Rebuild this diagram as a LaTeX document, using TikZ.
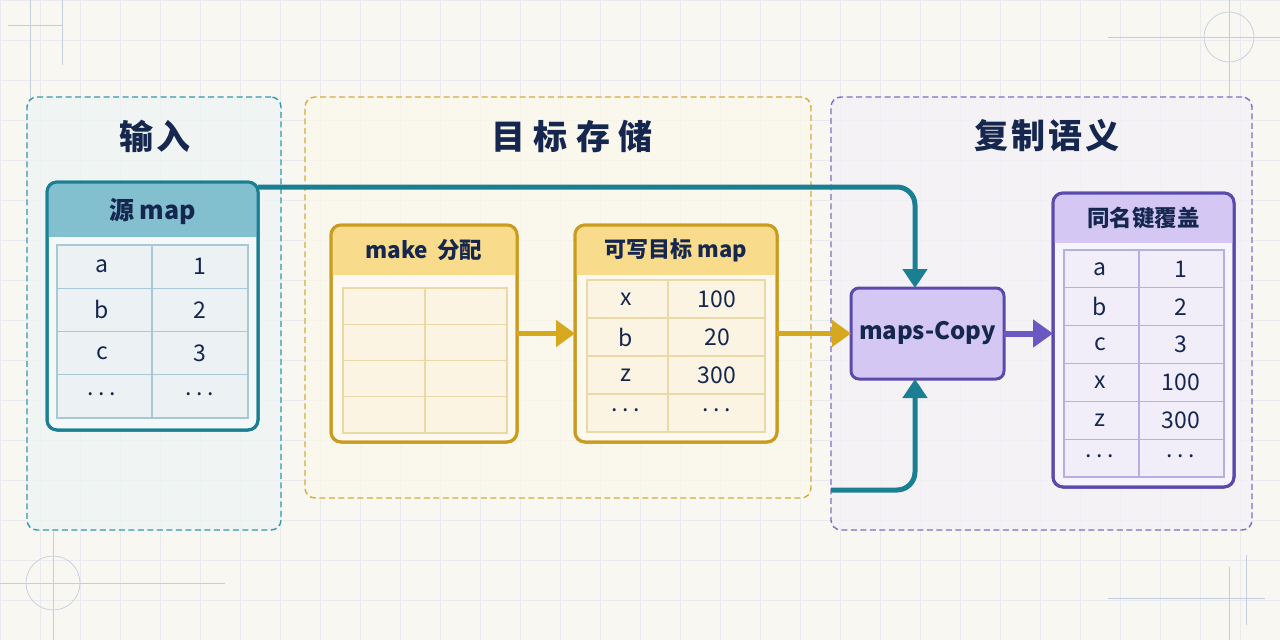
\documentclass[tikz,border=0pt]{standalone}
\usepackage{fontspec}
\setmainfont{Noto Sans CJK SC}
\usetikzlibrary{arrows.meta,calc}
\definecolor{bg}{HTML}{F8F7F2}
\definecolor{gridc}{HTML}{E8EAEE}
\definecolor{deco}{HTML}{C3CEDF}
\definecolor{navy}{HTML}{15264F}
\definecolor{tealc}{HTML}{1B7F93}
\definecolor{tealhead}{HTML}{82C0D0}
\definecolor{tealdash}{HTML}{2F9AAC}
\definecolor{tealpanel}{HTML}{EEF5F4}
\definecolor{tealbody}{HTML}{F4F8F9}
\definecolor{tealcell}{HTML}{ECF1F3}
\definecolor{tealline}{HTML}{A7C8D4}
\definecolor{goldc}{HTML}{C99B1E}
\definecolor{goldarrow}{HTML}{D6A81E}
\definecolor{goldhead}{HTML}{F8DC8C}
\definecolor{golddash}{HTML}{D8AA3C}
\definecolor{goldpanel}{HTML}{FBF7EB}
\definecolor{goldbody}{HTML}{FDF9EF}
\definecolor{goldcell}{HTML}{FBF4E3}
\definecolor{goldline}{HTML}{EAD8A6}
\definecolor{purc}{HTML}{5B4AAB}
\definecolor{purarrow}{HTML}{6B58C2}
\definecolor{purhead}{HTML}{D4C7F4}
\definecolor{purdash}{HTML}{7F6DCB}
\definecolor{purpanel}{HTML}{F4F1F8}
\definecolor{purbody}{HTML}{F6F4FC}
\definecolor{purcell}{HTML}{F1EEFA}
\definecolor{purline}{HTML}{B9AEE4}
\tikzset{
  panel/.style={rectangle, draw, dash pattern=on 6pt off 3.5pt, line width=1.4pt, rounded corners=10pt, fill opacity=0.75, inner sep=0pt, outer sep=0pt},
  mapbox/.style={rectangle, rounded corners=10pt, line width=3pt, inner sep=0pt, outer sep=0pt},
  title/.style={font=\fontsize{34}{40}\selectfont\bfseries, text=navy},
  head/.style={font=\fontsize{22.5}{26}\selectfont\bfseries, text=navy},
  cell/.style={font=\fontsize{23}{26}\selectfont, text=navy, inner sep=0pt},
  decoline/.style={draw=deco, line width=0.7pt},
}
\newcommand{\mydots}{\raisebox{0.22em}{.\hspace{4.5pt}.\hspace{4.5pt}.}}
\newcommand{\gridtable}[7]{%
  \filldraw[fill=#7cell, draw=#7line, line width=1.2pt] (#1,#2) rectangle (#3,#4);
  \draw[#7line, line width=1.2pt] (#5,#2) -- (#5,#4);
  \pgfmathtruncatemacro{\nm}{#6-1}
  \foreach \i in {1,...,\nm}{\draw[#7line, line width=1.2pt] (#1,{#2+(#4-#2)*\i/#6}) -- (#3,{#2+(#4-#2)*\i/#6});}
}
\newcommand{\headfill}[3]{%
  \begin{scope}
    \clip[rounded corners=10pt] (#1.north west) rectangle (#1.south east);
    \fill[#2] (#1.north west) rectangle ($(#1.north east)+(0,#3)$);
  \end{scope}
}
\begin{document}
\begin{tikzpicture}[x=1pt,y=-1pt]
\useasboundingbox (0,0) rectangle (1280,640);
\fill[bg] (0,0) rectangle (1280,640);
% grid
\foreach \x in {0,40,...,1280} \draw[gridc, line width=0.6pt] (\x,0) -- (\x,640);
\foreach \y in {0,40,...,640} \draw[gridc, line width=0.6pt] (0,\y) -- (1280,\y);
% decorations
\draw[decoline] (30,0) -- (30,100);
\draw[decoline] (62,0) -- (62,65);
\draw[decoline] (8,25) -- (62,25);
\draw[decoline] (1229,37) circle (25);
\draw[decoline] (1108,37) -- (1280,37);
\draw[decoline] (1229,0) -- (1229,100);
\draw[decoline] (53,583) circle (27);
\draw[decoline] (0,583) -- (225,583);
\draw[decoline] (53,530) -- (53,640);
\draw[decoline] (1229,567) -- (1229,640);
\draw[decoline] (1246,555) -- (1246,625);
\draw[decoline] (1108,598) -- (1265,598);
% panels
\node[panel, draw=tealdash, fill=tealpanel, minimum width=254pt, minimum height=433pt] (pin) at (154,313.5) {};
\node[panel, draw=golddash, fill=goldpanel, minimum width=506pt, minimum height=401pt] (pst) at (558,297.5) {};
\node[panel, draw=purdash, fill=purpanel, minimum width=421pt, minimum height=433pt] (pcp) at (1041.5,313.5) {};
% titles
\node[title] (tin) at (155,136) {\addfontfeature{LetterSpace=8}输入};
\node[title] (tst) at (572,136) {\addfontfeature{LetterSpace=25}目标存储};
\node[title] (tcp) at (1047,136) {\addfontfeature{LetterSpace=8}复制语义};
% source map
\node[mapbox, draw=tealc, fill=tealbody, minimum width=211pt, minimum height=248pt] (src) at (152.5,306) {};
\headfill{src}{tealhead}{55}
\draw[tealc, line width=3pt, rounded corners=10pt] (src.north west) rectangle (src.south east);
\node[head, font=\fontsize{25}{29}\selectfont\bfseries] (srch) at (152.5,211) {源 map};
\gridtable{57}{245}{248}{418}{152}{4}{teal}
\foreach \k/\v [count=\i] in {a/1,b/2,c/3,\mydots/\mydots}{
  \node[cell] (src-k\i) at (102, {245+43.25*(\i-0.5)}) {\k};
  \node[cell] (src-v\i) at (200, {245+43.25*(\i-0.5)}) {\v};
}
% make
\node[mapbox, draw=goldc, fill=goldbody, minimum width=186pt, minimum height=217pt] (mk) at (424,333.5) {};
\headfill{mk}{goldhead}{50}
\draw[goldc, line width=3pt, rounded corners=10pt] (mk.north west) rectangle (mk.south east);
\node[head] (mkh) at (424,250) {make\hspace{4pt} 分配};
\gridtable{343}{288}{507}{433}{425}{4}{gold}
% writable target
\node[mapbox, draw=goldc, fill=goldbody, minimum width=202pt, minimum height=217pt] (wt) at (676,333.5) {};
\headfill{wt}{goldhead}{50}
\draw[goldc, line width=3pt, rounded corners=10pt] (wt.north west) rectangle (wt.south east);
\node[head, font=\fontsize{22}{26}\selectfont\bfseries] (wth) at (676,250) {可写目标 map};
\gridtable{587}{280}{765}{432}{668}{4}{gold}
\foreach \k/\v [count=\i] in {x/100,b/20,z/300,\mydots/\mydots}{
  \node[cell] (wt-k\i) at (626, {280+38*(\i-0.5)}) {\k};
  \node[cell] (wt-v\i) at (717, {280+38*(\i-0.5)}) {\v};
}
% maps.Copy
\node[mapbox, rounded corners=8pt, draw=purc, fill=purhead, minimum width=153pt, minimum height=91pt, font=\fontsize{24}{28}\selectfont\bfseries, text=navy] (cp) at (927.5,333.5) {maps-Copy};
% result
\node[mapbox, draw=purc, fill=purbody, minimum width=181pt, minimum height=294pt] (res) at (1143.5,340) {};
\headfill{res}{purhead}{50}
\draw[purc, line width=3pt, rounded corners=10pt] (res.north west) rectangle (res.south east);
\node[head] (resh) at (1143.5,218) {同名键覆盖};
\gridtable{1064}{250}{1224}{477}{1139}{6}{pur}
\foreach \k/\v [count=\i] in {a/1,b/2,c/3,x/100,z/300,\mydots/\mydots}{
  \node[cell] (res-k\i) at (1100, {250+37.833*(\i-0.5)}) {\k};
  \node[cell] (res-v\i) at (1181, {250+37.833*(\i-0.5)}) {\v};
}
% connectors
\coordinate (t1) at (915,187);
\coordinate (b0) at (831,490);
\coordinate (b1) at (915,490);
\draw[tealc, line width=5pt, rounded corners=18pt, -{Triangle[length=19pt,width=24pt]}] (src.east |- t1) -- (t1) -- (cp.north -| t1);
\draw[tealc, line width=5pt, rounded corners=18pt, -{Triangle[length=19pt,width=24pt]}] (b0) -- (b1) -- (cp.south -| b1);
\draw[goldarrow, line width=5pt, -{Triangle[length=19pt,width=26pt]}] (mk.east) -- (wt.west);
\draw[goldarrow, line width=5pt, -{Triangle[length=19pt,width=26pt]}] (wt.east) -- (cp.west);
\draw[purarrow, line width=6pt, -{Triangle[length=20pt,width=27pt]}] (cp.east) -- (cp.east -| res.west);
\end{tikzpicture}
\end{document}
